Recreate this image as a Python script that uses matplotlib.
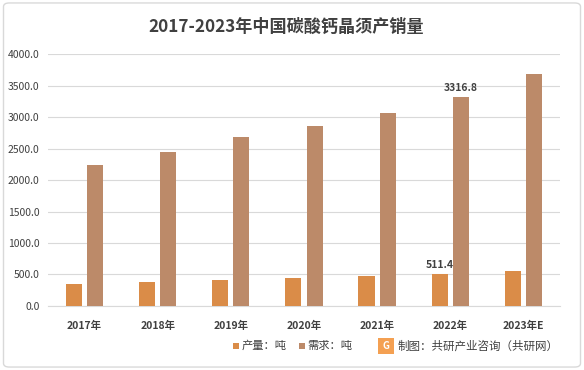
import matplotlib
matplotlib.use("Agg")
import matplotlib.pyplot as plt
from matplotlib.patches import FancyBboxPatch, Rectangle

plt.rcParams['font.family'] = ['Noto Sans CJK SC', 'DejaVu Sans']

years = ["2017年", "2018年", "2019年", "2020年", "2021年", "2022年", "2023年E"]
production = [345, 378, 410, 442, 476, 511.4, 560]
demand = [2240, 2448, 2684, 2860, 3068, 3316.8, 3685]
series_names = ["产量：吨", "需求：吨"]
yticks = [0, 500, 1000, 1500, 2000, 2500, 3000, 3500, 4000]

c_prod = "#DA8C48"
c_dem = "#BC8A69"
txt = "#404040"

W, H = 584, 370
fig = plt.figure(figsize=(W/100, H/100), dpi=100)
fig.patches.append(FancyBboxPatch((0.006, 0.008), 0.988, 0.984, boxstyle="round,pad=0,rounding_size=0.01",
                                  transform=fig.transFigure, fc="white", ec="#D9D9D9", lw=1.0, zorder=-5))

ax = fig.add_axes([0.082, 0.173, 0.877, 0.681])
ax.set_facecolor('none')
x = list(range(len(years)))
w = 0.22
gap = 0.035
ax.bar([i - w/2 - gap for i in x], production, width=w, color=c_prod, zorder=3)
ax.bar([i + w/2 + gap for i in x], demand, width=w, color=c_dem, zorder=3)

ax.set_ylim(0, 4000)
ax.set_xlim(-0.5, len(years) - 0.5)
ax.set_yticks(yticks)
ax.set_yticklabels([f"{v:.1f}" for v in yticks], fontsize=7.5, color=txt)
ax.set_xticks(x)
ax.set_xticklabels(years, fontsize=7.5, color=txt, fontweight='bold')
ax.tick_params(axis='y', length=0, pad=6)
ax.tick_params(axis='x', length=0, pad=11)
ax.grid(axis='y', color="#D9D9D9", lw=0.8, zorder=0)
for s in ['top', 'right', 'left']:
    ax.spines[s].set_visible(False)
ax.spines['bottom'].set_color("#D9D9D9")

i22 = years.index("2022年")
ax.text(i22 - w/2 - gap, production[i22] + 60, f"{production[i22]}", ha='center', va='bottom',
        fontsize=7.5, color=txt, fontweight='bold')
ax.text(i22 + w/2 + gap, demand[i22] + 60, f"{demand[i22]}", ha='center', va='bottom',
        fontsize=7.5, color=txt, fontweight='bold')

fig.text(286/W, 1 - 27/H, "2017-2023年中国碳酸钙晶须产销量", ha='center', va='center',
         fontsize=12.3, fontweight='bold', color="#404040")

# legend
ly = 1 - 346/H
def px(v):
    return v / W
fig.patches.append(Rectangle((px(233), ly - 3/H), px(6), 6/H, transform=fig.transFigure, fc=c_prod, ec='none'))
fig.text(px(242), ly, series_names[0], ha='left', va='center', fontsize=8.1, color=txt)
fig.patches.append(Rectangle((px(299), ly - 3/H), px(6), 6/H, transform=fig.transFigure, fc=c_dem, ec='none'))
fig.text(px(307), ly, series_names[1], ha='left', va='center', fontsize=8.1, color=txt)
fig.patches.append(Rectangle((px(378), ly - 8/H), px(16), 16/H, transform=fig.transFigure, fc="#F4A052", ec='none'))
fig.text(px(386), ly, "G", ha='center', va='center', fontsize=7, color='white', fontweight='bold')
fig.text(px(398), ly, "制图：共研产业咨询（共研网）", ha='left', va='center', fontsize=8.3, color=txt)

fig.savefig("out.png", dpi=100)
